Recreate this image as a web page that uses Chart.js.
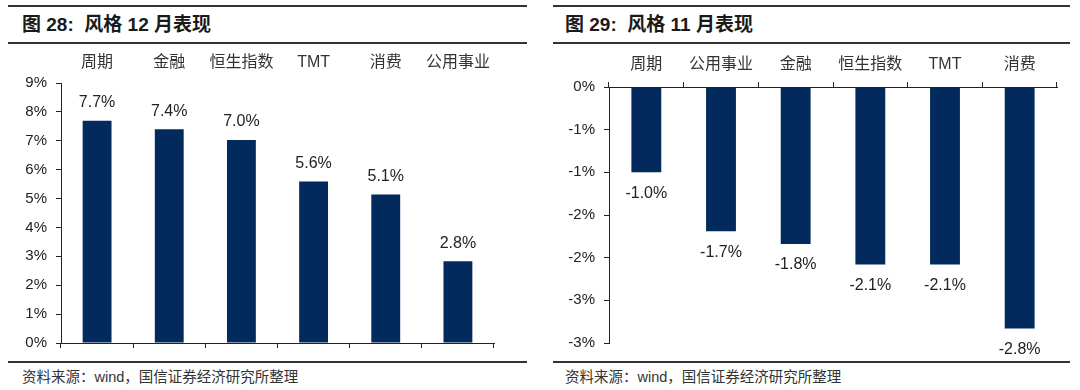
<!DOCTYPE html>
<html lang="zh">
<head>
<meta charset="UTF-8">
<title>风格表现</title>
<script src="https://cdn.jsdelivr.net/npm/chart.js@4.4.0/dist/chart.umd.min.js"></script>
<style>
  body { margin: 0; width: 1080px; height: 390px; background: #fff; position: relative; overflow: hidden;
         font-family: "Liberation Sans", Arial, "Noto Sans CJK SC", sans-serif; color: #1a1a1a; }
  .rule { position: absolute; height: 2px; background: #333; }
  .title { position: absolute; top: 13px; font-size: 19px; font-weight: bold; line-height: 24px; white-space: nowrap; }
  .source { position: absolute; top: 368px; font-size: 14.5px; line-height: 18px; color: #333; white-space: nowrap; }
  canvas { position: absolute; }
</style>
</head>
<body>
  <div class="rule" style="left:8px; width:519px; top:5px;"></div>
  <div class="title" style="left:22px;">图 28:&nbsp; 风格 12 月表现</div>
  <div class="rule" style="left:8px; width:519px; top:42px;"></div>
  <canvas id="dec" width="540" height="313" style="left:0; top:48px;"></canvas>
  <div class="rule" style="left:8px; width:519px; top:361px;"></div>
  <div class="source" style="left:22px;">资料来源：wind，国信证券经济研究所整理</div>

  <div class="rule" style="left:553px; width:517px; top:5px;"></div>
  <div class="title" style="left:565px;">图 29:&nbsp; 风格 11 月表现</div>
  <div class="rule" style="left:553px; width:517px; top:42px;"></div>
  <canvas id="nov" width="535" height="313" style="left:545px; top:48px;"></canvas>
  <div class="rule" style="left:553px; width:517px; top:361px;"></div>
  <div class="source" style="left:565px;">资料来源：wind，国信证券经济研究所整理</div>

<script>
// 12月
const decCats = ['周期', '金融', '恒生指数', 'TMT', '消费', '公用事业'];
const decVals = [7.69, 7.40, 7.03, 5.59, 5.14, 2.83];
const decTicks = ['0%', '1%', '2%', '3%', '4%', '5%', '6%', '7%', '8%', '9%'];
// 11月
const novCats = ['周期', '公用事业', '金融', '恒生指数', 'TMT', '消费'];
const novVals = [-1.00, -1.69, -1.84, -2.08, -2.08, -2.83];
const novTicks = ['-3%', '-3%', '-2%', '-2%', '-1%', '-1%', '0%'];

const barColor = '#022a5c';
const axisColor = '#222';
const fontFam = '"Liberation Sans", Arial, "Noto Sans CJK SC", sans-serif';

const barLabels = {
  id: 'barLabels',
  afterDatasetsDraw(chart) {
    const ctx = chart.ctx;
    const vals = chart.data.datasets[0].data;
    ctx.save();
    ctx.font = '16px ' + fontFam;
    ctx.fillStyle = '#222';
    ctx.textAlign = 'center';
    ctx.textBaseline = 'middle';
    chart.getDatasetMeta(0).data.forEach((bar, i) => {
      const v = vals[i];
      const y = v >= 0 ? bar.y - 18 : bar.y + 21;
      ctx.fillText(v.toFixed(1) + '%', bar.x, y);
    });
    ctx.restore();
  }
};

const tickGrid = { display: true, drawOnChartArea: false, drawTicks: true, tickLength: 5, color: axisColor };

new Chart('dec', {
  type: 'bar',
  data: {
    labels: decCats,
    datasets: [{ data: decVals, backgroundColor: barColor, barPercentage: 0.4, categoryPercentage: 1 }]
  },
  options: {
    responsive: false, animation: false, devicePixelRatio: 1,
    layout: { padding: { left: 0, right: 46, top: 0, bottom: 0 } },
    plugins: { legend: { display: false }, tooltip: { enabled: false } },
    scales: {
      x: {
        position: 'bottom', offset: true,
        grid: Object.assign({}, tickGrid, { offset: true }),
        border: { display: true, color: axisColor },
        ticks: { display: false },
        afterFit: s => { s.height = 9; }
      },
      x2: {
        type: 'category', position: 'top', offset: true,
        grid: { display: false, drawTicks: false },
        border: { display: false },
        ticks: { color: '#333', font: { size: 16, family: fontFam }, padding: 11, autoSkip: false, maxRotation: 0 },
        afterFit: s => { s.height = 35; }
      },
      y: {
        min: 0, max: 9,
        ticks: { stepSize: 1, color: '#222', font: { size: 15, family: fontFam }, padding: 9,
                 callback: (v, i) => decTicks[i] },
        grid: tickGrid,
        border: { display: true, color: axisColor },
        afterFit: s => { s.width = 61; }
      }
    }
  },
  plugins: [barLabels]
});

new Chart('nov', {
  type: 'bar',
  data: {
    labels: novCats,
    datasets: [{ data: novVals, backgroundColor: barColor, barPercentage: 0.4, categoryPercentage: 1 }]
  },
  options: {
    responsive: false, animation: false, devicePixelRatio: 1,
    layout: { padding: { left: 0, right: 23, top: 0, bottom: 16 } },
    plugins: { legend: { display: false }, tooltip: { enabled: false } },
    scales: {
      x: {
        position: 'top', offset: true,
        grid: Object.assign({}, tickGrid, { offset: true }),
        border: { display: true, color: axisColor },
        ticks: { color: '#333', font: { size: 16, family: fontFam }, padding: 8, autoSkip: false, maxRotation: 0 },
        afterFit: s => { s.height = 39; }
      },
      y: {
        min: -3, max: 0,
        ticks: { stepSize: 0.5, color: '#222', font: { size: 15, family: fontFam }, padding: 9,
                 callback: (v, i) => novTicks[i] },
        grid: tickGrid,
        border: { display: true, color: axisColor },
        afterFit: s => { s.width = 64; }
      }
    }
  },
  plugins: [barLabels]
});
</script>
</body>
</html>
